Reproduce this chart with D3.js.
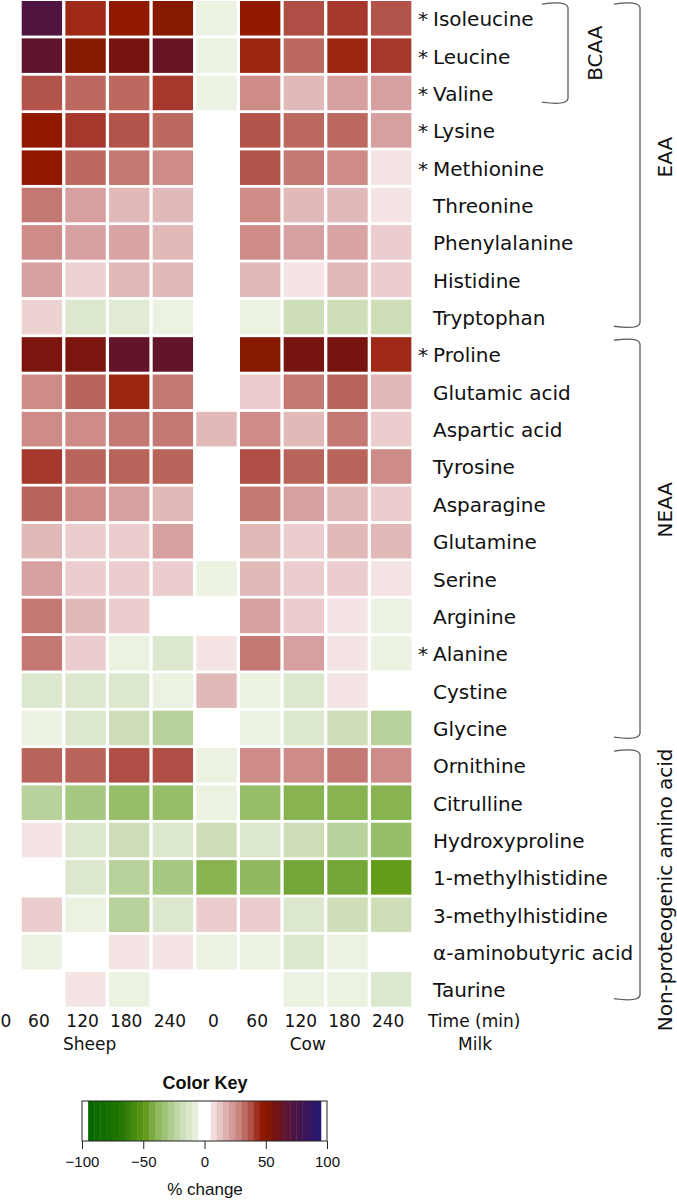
<!DOCTYPE html>
<html>
<head>
<meta charset="utf-8">
<script src="https://cdn.jsdelivr.net/npm/d3@7"></script>
<style>
  html, body { margin: 0; padding: 0; background: #fff; }
  svg { display: block; }
</style>
</head>
<body>
<svg id="chart" width="677" height="1203"></svg>
<script>
// ---------------- data ----------------
const columns = ["Sheep 0","Sheep 60","Sheep 120","Sheep 180","Sheep 240","Cow 0","Cow 60","Cow 120","Cow 180","Cow 240"];
const timeLabels = ["0","60","120","180","240","0","60","120","180","240"];
const species = ["Sheep","Cow"];
const speciesCenterColumn = ["Sheep 120","Cow 120"];

const aminoAcids = ["Isoleucine","Leucine","Valine","Lysine","Methionine","Threonine","Phenylalanine","Histidine","Tryptophan",
  "Proline","Glutamic acid","Aspartic acid","Tyrosine","Asparagine","Glutamine","Serine","Arginine","Alanine","Cystine","Glycine",
  "Ornithine","Citrulline","Hydroxyproline","1-methylhistidine","3-methylhistidine","α-aminobutyric acid","Taurine"];
const starred = ["Isoleucine","Leucine","Valine","Lysine","Methionine","Proline","Alanine"];

// % change per amino acid, columns as in `columns`
const percentChange = [
  [0, 72, 44, 47, 51, -6, 47, 38, 41, 37],
  [0, 66, 51, 57, 63, -6, 45, 33, 45, 41],
  [0, 37, 33, 33, 41, -6, 26, 15, 21, 21],
  [0, 47, 41, 37, 33,  0, 37, 33, 33, 21],
  [0, 47, 33, 30, 26,  0, 37, 30, 26,  6],
  [0, 30, 21, 15, 15,  0, 26, 15, 15,  6],
  [0, 26, 21, 20, 15,  0, 26, 21, 20, 11],
  [0, 21, 10, 15, 15,  0, 15,  6, 15, 11],
  [0, 10,-12,-10, -6,  0, -6,-18,-18,-18],
  [0, 56, 56, 64, 64,  0, 51, 57, 57, 44],
  [0, 26, 34, 45, 30,  0, 11, 30, 34, 15],
  [0, 26, 26, 30, 30, 15, 26, 15, 30, 11],
  [0, 41, 34, 34, 34,  0, 38, 34, 34, 26],
  [0, 34, 26, 21, 15,  0, 30, 21, 15, 11],
  [0, 15, 11, 11, 21,  0, 15, 11, 15, 15],
  [0, 21, 11, 11, 11, -6, 15, 11, 11,  6],
  [0, 30, 15, 11,  0,  0, 21, 11,  6, -6],
  [0, 30, 11, -6,-12,  6, 30, 21,  6, -6],
  [0,-12,-12,-12, -6, 15, -6,-12,  6,  0],
  [0, -6,-12,-18,-25,  0, -6,-12,-18,-25],
  [0, 34, 34, 38, 38, -6, 26, 26, 30, 26],
  [0,-25,-30,-35,-35, -6,-35,-40,-40,-40],
  [0,  6,-12,-18,-12,-18,-12,-18,-25,-35],
  [0,  0,-12,-25,-30,-40,-37,-44,-44,-48],
  [0, 11, -6,-25,-12, 11, 11,-12,-18,-18],
  [0, -6,  0,  6,  6, -6, -6,-12, -6,  0],
  [0,  0,  6, -6,  0,  0,  0, -6, -6,-12]
];

const groupNames = ["BCAA","EAA","NEAA","Non-proteogenic amino acid"];
const groupFirst = ["Isoleucine","Isoleucine","Proline","Ornithine"];
const groupLast  = ["Valine","Tryptophan","Glycine","Taurine"];

const keyTicks = [-100,-50,0,50,100];

// ---------------- colour scale ----------------
const colourStops = [-100,-70,-48,-44,-40,-35,-30,-25,-18,-12,-6,-3,3,6,11,15,21,26,30,34,38,41,45,47,51,57,64,72,100];
const colourValues = ["#006400","#1e7400","#649b19","#73a537","#87b450","#96be69","#a5c882","#b9d29b","#cddeb9","#dce8cd","#ebf2e1","#ffffff","#ffffff",
  "#f5e4e4","#ebcdcd","#e1b9b9","#d7a0a0","#cd8c87","#c37873","#b9645a","#af4e44","#a5372d","#9b260f","#911900","#871900","#78140f","#641428","#501441","#1a1a80"];
const colour = d3.scaleLinear().domain(colourStops).range(colourValues).interpolate(d3.interpolateRgb).clamp(true);

// ---------------- layout ----------------
const svg = d3.select("#chart");
const font = "'DejaVu Sans', Verdana, sans-serif";

const x = d3.scaleBand().domain(columns).range([-23.6, 413.0]).padding(0);
const y = d3.scaleBand().domain(aminoAcids).range([-0.4, 1008.1]).padding(0);
const gapX = 1.65, gapY = 1.4;

const cells = [];
aminoAcids.forEach((aa, r) => columns.forEach((c, k) => cells.push({aa, c, v: percentChange[r][k]})));

svg.append("g").selectAll("rect").data(cells).join("rect")
  .attr("x", d => x(d.c) + gapX)
  .attr("y", d => y(d.aa) + gapY)
  .attr("width", x.bandwidth() - 2 * gapX)
  .attr("height", y.bandwidth() - 2 * gapY)
  .attr("fill", d => colour(d.v));

// row labels
const rowG = svg.append("g").attr("font-family", font).attr("font-size", 20).attr("fill", "#111");
rowG.selectAll("text.name").data(aminoAcids).join("text")
  .attr("class", "name")
  .attr("x", 433)
  .attr("y", d => y(d) + y.bandwidth() / 2 + 8)
  .text(d => d);
rowG.selectAll("text.star").data(starred).join("text")
  .attr("class", "star")
  .attr("x", 418)
  .attr("y", d => y(d) + y.bandwidth() / 2 + 8)
  .text("*");

// column labels
const colG = svg.append("g").attr("font-family", font).attr("font-size", 17).attr("fill", "#111");
colG.selectAll("text.time").data(columns).join("text")
  .attr("class", "time")
  .attr("text-anchor", "middle")
  .attr("x", d => Math.max(x(d) + x.bandwidth() / 2 - 3, 6))
  .attr("y", 1027)
  .text((d, i) => timeLabels[i]);
colG.append("text").attr("x", 428).attr("y", 1027).text("Time (min)");
colG.selectAll("text.species").data(species).join("text")
  .attr("class", "species")
  .attr("text-anchor", "middle")
  .attr("x", (d, i) => x(speciesCenterColumn[i]) + x.bandwidth() / 2 + 4)
  .attr("y", 1050)
  .text(d => d);
colG.append("text").attr("x", 475).attr("y", 1050).attr("text-anchor", "middle").text("Milk");

// brackets
const bracketX = [568, 640, 640, 640];
const bracketLabelX = [602, 671.5, 671.5, 671.5];
const bracketLabelDy = [0, -8, -29, 15];
const brG = svg.append("g");
groupNames.forEach((g, i) => {
  const top = y(groupFirst[i]) + 3;
  const bottom = y(groupLast[i]) + y.bandwidth() - 8;
  const bx = bracketX[i];
  const w = 26;
  const p = `M${bx - w},${top + 1.5} C${bx - 12},${top - 0.5} ${bx - 1},${top - 0.5} ${bx},${top + 5}`
          + ` L${bx},${bottom - 5} C${bx - 1},${bottom + 0.5} ${bx - 12},${bottom + 0.5} ${bx - w},${bottom - 1.5}`;
  brG.append("path").attr("d", p).attr("fill", "none").attr("stroke", "#5a5a5a").attr("stroke-width", 1.3);
  const cy = (top + bottom) / 2 + bracketLabelDy[i];
  brG.append("text")
    .attr("transform", `translate(${bracketLabelX[i]},${cy}) rotate(-90)`)
    .attr("text-anchor", "middle")
    .attr("font-family", font).attr("font-size", 20).attr("fill", "#111")
    .text(g);
});

// ---------------- colour key ----------------
const keyFont = "'Liberation Sans', Arial, sans-serif";
const kx = d3.scaleLinear().domain([-100, 100]).range([82, 327]);
const keyTop = 1101, keyBottom = 1141;
const keyBins = d3.range(-95, 95, 5);
const keyG = svg.append("g");
keyG.selectAll("rect").data(keyBins).join("rect")
  .attr("x", d => kx(d))
  .attr("y", keyTop)
  .attr("width", kx(5) - kx(0) + 0.4)
  .attr("height", keyBottom - keyTop)
  .attr("fill", d => colour(d + 2.5));
keyG.append("rect").attr("x", kx(-100)).attr("y", keyTop)
  .attr("width", kx(100) - kx(-100)).attr("height", keyBottom - keyTop)
  .attr("fill", "none").attr("stroke", "#222").attr("stroke-width", 1);

const axis = d3.axisBottom(kx).tickValues(keyTicks).tickSize(8).tickPadding(7);
const axG = keyG.append("g").attr("transform", `translate(0,${keyBottom})`).call(axis);
axG.select(".domain").remove();
axG.selectAll("line").attr("stroke", "#222");
axG.selectAll("text").attr("font-family", keyFont).attr("font-size", 15).attr("fill", "#111");

keyG.append("text").attr("x", 205).attr("y", 1089).attr("text-anchor", "middle")
  .attr("font-family", keyFont).attr("font-size", 18).attr("font-weight", "bold").attr("fill", "#111")
  .text("Color Key");
keyG.append("text").attr("x", 205).attr("y", 1195).attr("text-anchor", "middle")
  .attr("font-family", keyFont).attr("font-size", 17).attr("fill", "#111")
  .text("% change");
</script>
</body>
</html>
